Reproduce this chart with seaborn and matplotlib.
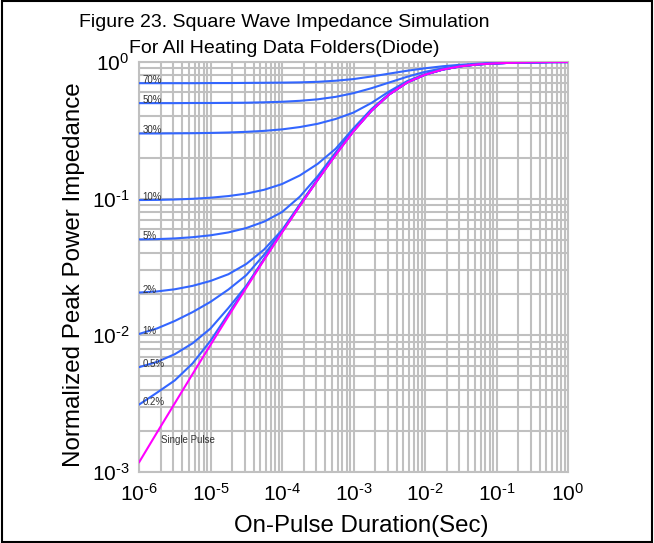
import matplotlib
matplotlib.use("Agg")
import numpy as np
import pandas as pd
import matplotlib.pyplot as plt
import seaborn as sns
from matplotlib import font_manager
from matplotlib.patches import Rectangle
from matplotlib.ticker import FixedLocator, FuncFormatter, LogLocator, NullFormatter

# On-pulse duration grid, log10(seconds), quarter-decade steps
log_t = [-6.0, -5.75, -5.5, -5.25, -5.0, -4.75, -4.5, -4.25, -4.0, -3.75, -3.5, -3.25,
         -3.0, -2.75, -2.5, -2.25, -2.0, -1.75, -1.5, -1.25, -1.0, -0.75, -0.5, -0.25, 0.0]

# log10 of normalized peak power impedance, one list per duty cycle
z_70 = [-0.155, -0.155, -0.155, -0.155, -0.154, -0.154, -0.153, -0.152, -0.151, -0.149, -0.145, -0.137,
        -0.125, -0.106, -0.085, -0.064, -0.046, -0.031, -0.020, -0.012, -0.007, -0.0038, -0.0017, -0.0003, 0.0]
z_50 = [-0.301, -0.301, -0.301, -0.300, -0.300, -0.299, -0.298, -0.295, -0.291, -0.284, -0.273, -0.255,
        -0.228, -0.192, -0.150, -0.108, -0.072, -0.046, -0.028, -0.0158, -0.0088, -0.0045, -0.0019, -0.0003, 0.0]
z_30 = [-0.523, -0.523, -0.522, -0.521, -0.519, -0.516, -0.511, -0.504, -0.493, -0.476, -0.452, -0.417,
        -0.370, -0.300, -0.215, -0.140, -0.088, -0.053, -0.030, -0.0165, -0.0092, -0.0048, -0.0020, -0.0003, 0.0]
z_10 = [-1.010, -1.009, -1.006, -1.001, -0.993, -0.981, -0.963, -0.935, -0.893, -0.830, -0.745, -0.635,
        -0.485, -0.345, -0.232, -0.148, -0.091, -0.054, -0.0305, -0.0168, -0.0094, -0.0049, -0.0020, -0.0003, 0.0]
z_5 = [-1.298, -1.296, -1.291, -1.282, -1.268, -1.247, -1.215, -1.168, -1.098, -0.985, -0.835, -0.662,
       -0.495, -0.352, -0.235, -0.149, -0.092, -0.0545, -0.0308, -0.0169, -0.0094, -0.0050, -0.0020, -0.0003, 0.0]
z_2 = [-1.687, -1.679, -1.663, -1.638, -1.602, -1.553, -1.478, -1.372, -1.230, -1.042, -0.855, -0.672,
       -0.501, -0.355, -0.236, -0.1495, -0.0922, -0.0547, -0.0309, -0.0170, -0.0095, -0.0050, -0.0020, -0.0003, 0.0]
z_1 = [-1.990, -1.950, -1.895, -1.830, -1.755, -1.665, -1.560, -1.410, -1.238, -1.046, -0.858, -0.675,
       -0.503, -0.356, -0.2365, -0.1498, -0.0924, -0.0548, -0.0310, -0.0170, -0.0095, -0.0050, -0.0020, -0.0003, 0.0]
z_05 = [-2.233, -2.195, -2.138, -2.058, -1.950, -1.800, -1.638, -1.440, -1.242, -1.049, -0.860, -0.677,
        -0.505, -0.357, -0.237, -0.1499, -0.0925, -0.0549, -0.0310, -0.0170, -0.0095, -0.0050, -0.0020, -0.0003, 0.0]
z_02 = [-2.507, -2.420, -2.330, -2.205, -2.040, -1.842, -1.644, -1.443, -1.244, -1.050, -0.861, -0.678,
        -0.506, -0.357, -0.2372, -0.1500, -0.0925, -0.0550, -0.0310, -0.0170, -0.0095, -0.0050, -0.0020, -0.0003, 0.0]
z_single = [-2.930, -2.7125, -2.4975, -2.2825, -2.070, -1.860, -1.6525, -1.4475, -1.2475, -1.0525, -0.8625, -0.680,
            -0.5075, -0.3575, -0.2375, -0.150, -0.0925, -0.055, -0.031, -0.017, -0.0095, -0.005, -0.002, -0.0003, 0.0]

curve_names = ["70%", "50%", "30%", "10%", "5%", "2%", "1%", "0.5%", "0.2%", "Single Pulse"]
curve_values = [z_70, z_50, z_30, z_10, z_5, z_2, z_1, z_05, z_02, z_single]

x_tick_exps = [-6, -5, -4, -3, -2, -1, 0]
y_tick_exps = [-3, -2, -1, 0]

title_lines = ["Figure 23. Square Wave Impedance Simulation",
               "For All Heating Data Folders(Diode)"]
x_label = "On-Pulse Duration(Sec)"
y_label = "Normalized Peak Power Impedance"

# ---- styling -------------------------------------------------------------
sns.set_theme(style="white")
plt.rcParams["font.family"] = ["Liberation Sans", "DejaVu Sans"]
plt.rcParams["mathtext.fontset"] = "custom"
plt.rcParams["mathtext.rm"] = "Liberation Sans"
plt.rcParams["mathtext.it"] = "Liberation Sans:italic"
plt.rcParams["mathtext.bf"] = "Liberation Sans:bold"

installed = {f.name for f in font_manager.fontManager.ttflist}
if "Liberation Sans Narrow" in installed:
    title_family, title_size = ["Liberation Sans Narrow", "DejaVu Sans"], 17
else:
    title_family, title_size = ["Liberation Sans", "DejaVu Sans"], 14

W, H = 654, 543
fig = plt.figure(figsize=(W / 100, H / 100), dpi=100, facecolor="white")
ax_l, ax_r, ax_t, ax_b = 139, 568, 62, 472
ax = fig.add_axes([ax_l / W, 1 - ax_b / H, (ax_r - ax_l) / W, (ax_b - ax_t) / H])
ax.set_xscale("log")
ax.set_yscale("log")

# ---- data ----------------------------------------------------------------
frames = []
for name, vals in zip(curve_names, curve_values):
    frames.append(pd.DataFrame({
        "duration": 10.0 ** np.asarray(log_t),
        "impedance": 10.0 ** np.asarray(vals),
        "curve": name,
    }))
df = pd.concat(frames, ignore_index=True)

palette = {n: "#3366ff" for n in curve_names}
palette["Single Pulse"] = "#ff00ff"

sns.lineplot(data=df, x="duration", y="impedance", hue="curve", hue_order=curve_names,
             palette=palette, sort=False, estimator=None, legend=False,
             linewidth=1.5, ax=ax, zorder=3)
for line in ax.get_lines():
    line.set_solid_joinstyle("round")

# ---- axes ----------------------------------------------------------------
ax.set_xlim(10.0 ** x_tick_exps[0], 10.0 ** x_tick_exps[-1])
ax.set_ylim(10.0 ** y_tick_exps[0], 10.0 ** y_tick_exps[-1])


def power_label(v, _pos):
    e = int(round(np.log10(v)))
    sign = "\u2010" if e < 0 else ""
    return r"$\mathdefault{10^{%s%d}}$" % (sign, abs(e))


ax.xaxis.set_major_locator(FixedLocator([10.0 ** e for e in x_tick_exps]))
ax.yaxis.set_major_locator(FixedLocator([10.0 ** e for e in y_tick_exps]))
ax.xaxis.set_minor_locator(LogLocator(base=10, subs=range(2, 10), numticks=20))
ax.yaxis.set_minor_locator(LogLocator(base=10, subs=range(2, 10), numticks=20))
ax.xaxis.set_major_formatter(FuncFormatter(power_label))
ax.yaxis.set_major_formatter(FuncFormatter(power_label))
ax.xaxis.set_minor_formatter(NullFormatter())
ax.yaxis.set_minor_formatter(NullFormatter())

ax.grid(True, which="both", color="#c0c0c0", linewidth=1.5)
ax.set_axisbelow(True)
for s in ax.spines.values():
    s.set_color("#c0c0c0")
    s.set_linewidth(1.5)

ax.tick_params(which="both", length=0, colors="black")
ax.tick_params(axis="x", labelsize=15, pad=8)
ax.tick_params(axis="y", labelsize=15, pad=7)

ax.set_xlabel(x_label, fontsize=17.3, color="black")
ax.set_ylabel(y_label, fontsize=17.4, color="black")
ax.xaxis.set_label_coords(0.517, -0.105)
ax.yaxis.set_label_coords(-0.127, 0.482)

# ---- curve labels --------------------------------------------------------
for name, vals in zip(curve_names[:-1], curve_values[:-1]):
    ax.text(1.12e-6, 10.0 ** vals[0], name, fontsize=7, color="#333333",
            ha="left", va="baseline", zorder=4)
ax.text(2.0e-6, 1.63e-3, curve_names[-1], fontsize=7, color="#333333",
        ha="left", va="baseline", zorder=4)

# ---- title ---------------------------------------------------------------
fig.text(284 / W, 1 - 26.7 / H, title_lines[0], ha="center", va="baseline",
         fontsize=title_size, family=title_family, color="black")
fig.text(284 / W, 1 - 53.3 / H, title_lines[1], ha="center", va="baseline",
         fontsize=title_size, family=title_family, color="black")

# frame around the whole figure
fig.add_artist(Rectangle((2 / W, 1 / H), 650 / W, 541 / H, transform=fig.transFigure,
                         fill=False, edgecolor="black", linewidth=1.5))

fig.savefig("out.png", dpi=100, facecolor="white")
